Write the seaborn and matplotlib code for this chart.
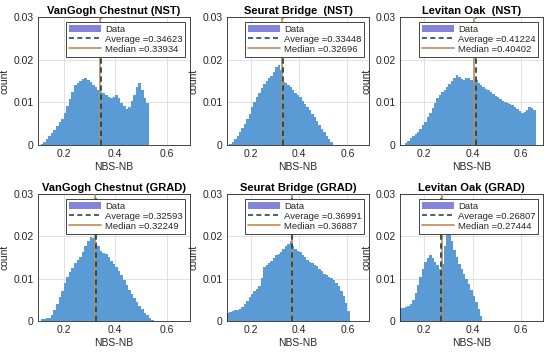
import numpy as np
import pandas as pd
import matplotlib
matplotlib.use('Agg')
import matplotlib.pyplot as plt
from matplotlib.patches import Patch
from matplotlib.lines import Line2D
import seaborn as sns

# ==== datos ====
titles = ['VanGogh Chestnut (NST)', 'Seurat Bridge  (NST)', 'Levitan Oak  (NST)',
          'VanGogh Chestnut (GRAD)', 'Seurat Bridge (GRAD)', 'Levitan Oak (GRAD)']
averages = [0.34623, 0.33448, 0.41224, 0.32593, 0.36991, 0.26807]
medians = [0.33934, 0.32696, 0.40402, 0.32249, 0.36887, 0.27444]

bin_width = 0.01
bin_starts = [0.11, 0.11, 0.12, 0.11, 0.10, 0.10]

vangogh_nst = [0.0003, 0.0008, 0.0014, 0.0021, 0.0029, 0.0036, 0.0045, 0.0053, 0.0062, 0.0075,
               0.0092, 0.0108, 0.0125, 0.0140, 0.0146, 0.0150, 0.0154, 0.0158, 0.0152, 0.0148,
               0.0141, 0.0135, 0.0128, 0.0125, 0.0121, 0.0117, 0.0113, 0.0110, 0.0112, 0.0118,
               0.0110, 0.0098, 0.0092, 0.0084, 0.0090, 0.0104, 0.0118, 0.0135, 0.0146, 0.0128,
               0.0110, 0.0098]
seurat_nst = [0.0003, 0.0007, 0.0013, 0.0020, 0.0030, 0.0040, 0.0050, 0.0061, 0.0073, 0.0088,
              0.0100, 0.0112, 0.0123, 0.0134, 0.0142, 0.0150, 0.0157, 0.0161, 0.0170, 0.0182,
              0.0188, 0.0176, 0.0148, 0.0145, 0.0141, 0.0137, 0.0130, 0.0123, 0.0117, 0.0112,
              0.0104, 0.0096, 0.0089, 0.0081, 0.0073, 0.0065, 0.0056, 0.0047, 0.0038, 0.0030,
              0.0022, 0.0014, 0.0006]
levitan_nst = [0.0004, 0.0010, 0.0016, 0.0021, 0.0026, 0.0031, 0.0038, 0.0046, 0.0055, 0.0065,
               0.0076, 0.0086, 0.0098, 0.0110, 0.0118, 0.0124, 0.0130, 0.0136, 0.0142, 0.0150,
               0.0158, 0.0165, 0.0160, 0.0155, 0.0153, 0.0157, 0.0158, 0.0153, 0.0150, 0.0152,
               0.0146, 0.0140, 0.0136, 0.0132, 0.0128, 0.0124, 0.0120, 0.0116, 0.0112, 0.0108,
               0.0104, 0.0100, 0.0098, 0.0095, 0.0093, 0.0090, 0.0085, 0.0080, 0.0075, 0.0078,
               0.0083, 0.0088, 0.0086, 0.0082]
vangogh_grad = [0.0004, 0.0005, 0.0006, 0.0008, 0.0014, 0.0026, 0.0040, 0.0056, 0.0072, 0.0090,
                0.0104, 0.0116, 0.0126, 0.0136, 0.0145, 0.0152, 0.0162, 0.0176, 0.0190, 0.0198,
                0.0196, 0.0186, 0.0178, 0.0166, 0.0160, 0.0158, 0.0150, 0.0142, 0.0134, 0.0128,
                0.0118, 0.0108, 0.0096, 0.0085, 0.0074, 0.0064, 0.0054, 0.0044, 0.0036, 0.0028,
                0.0020, 0.0013, 0.0007, 0.0003]
seurat_grad = [0.0020, 0.0022, 0.0024, 0.0025, 0.0026, 0.0028, 0.0032, 0.0039, 0.0048, 0.0057,
               0.0064, 0.0070, 0.0076, 0.0083, 0.0102, 0.0128, 0.0133, 0.0137, 0.0142, 0.0150,
               0.0155, 0.0159, 0.0164, 0.0170, 0.0176, 0.0182, 0.0190, 0.0178, 0.0170, 0.0166,
               0.0162, 0.0156, 0.0150, 0.0145, 0.0140, 0.0136, 0.0133, 0.0129, 0.0124, 0.0118,
               0.0112, 0.0108, 0.0104, 0.0101, 0.0097, 0.0090, 0.0082, 0.0072, 0.0058, 0.0042,
               0.0024]
levitan_grad = [0.0030, 0.0031, 0.0033, 0.0036, 0.0040, 0.0050, 0.0066, 0.0085, 0.0104, 0.0124,
                0.0140, 0.0150, 0.0155, 0.0148, 0.0140, 0.0132, 0.0122, 0.0135, 0.0178, 0.0202,
                0.0208, 0.0190, 0.0168, 0.0150, 0.0135, 0.0124, 0.0112, 0.0100, 0.0088, 0.0074,
                0.0060, 0.0044, 0.0028, 0.0012]

heights = [vangogh_nst, seurat_nst, levitan_nst, vangogh_grad, seurat_grad, levitan_grad]

y_ticks = [0, 0.01, 0.02, 0.03]
y_tick_labels = ['0', '0.01', '0.02', '0.03']
x_ticks = [0.2, 0.4, 0.6]
x_tick_labels = ['0.2', '0.4', '0.6']

# ==== estilo ====
sns.set_theme(style='whitegrid')
plt.rcParams['font.family'] = ['Liberation Sans', 'DejaVu Sans']

bar_color = '#5b9bd5'
data_patch_color = '#8484da'
avg_color = '#1e4d45'
med_color = '#c08a5c'
text_color = '#262626'

W, H = 550, 352
fig = plt.figure(figsize=(W / 100, H / 100), dpi=100)

col_lr = [(38, 190), (227, 369), (400, 543)]
row_tb = [(17, 145), (194, 321)]

for i in range(6):
    r, c = divmod(i, 3)
    l, rr = col_lr[c]
    t, b = row_tb[r]
    ax = fig.add_axes([l / W, 1 - b / H, (rr - l) / W, (b - t) / H])

    h = heights[i]
    edges = bin_starts[i] + bin_width * np.arange(len(h) + 1)
    centers = (edges[:-1] + edges[1:]) / 2
    df = pd.DataFrame({'x': centers, 'w': h})
    sns.histplot(data=df, x='x', weights='w', bins=edges.tolist(), ax=ax,
                 color=bar_color, alpha=1, linewidth=0)

    ax.axvline(medians[i], color=med_color, lw=1.2, ls='-', zorder=3)
    ax.axvline(averages[i], color=avg_color, lw=1.3, ls=(0, (3, 2)), zorder=4)

    ax.set_xlim(0.1, 0.69)
    ax.set_ylim(0, 0.03)
    ax.set_xticks(x_ticks)
    ax.set_xticklabels(x_tick_labels)
    ax.set_yticks(y_ticks)
    ax.set_yticklabels(y_tick_labels)
    ax.tick_params(labelsize=7.5, colors=text_color, length=0, pad=3)
    ax.grid(True, color='#dcdcdc', lw=0.6)
    ax.set_axisbelow(True)
    for s in ax.spines.values():
        s.set_color('#262626')
        s.set_linewidth(0.6)

    ax.set_title(titles[i], fontsize=8, fontweight='bold', color='black', pad=2)
    ax.set_xlabel('NBS-NB', fontsize=7.5, color=text_color, labelpad=2)
    ax.set_ylabel('count', fontsize=7.5, color=text_color, labelpad=3)

    handles = [Patch(facecolor=data_patch_color, edgecolor='none'),
               Line2D([0], [0], color=avg_color, lw=1.2, ls=(0, (3, 2))),
               Line2D([0], [0], color=med_color, lw=1.2)]
    labels = ['Data', 'Average =%.5f' % averages[i], 'Median =%.5f' % medians[i]]
    leg = ax.legend(handles, labels, loc='upper right', fontsize=6.8, fancybox=False,
                    framealpha=1, edgecolor='#262626', borderpad=0.3, labelspacing=0.1,
                    handlelength=3.4, handleheight=0.9, handletextpad=0.4,
                    borderaxespad=0.5)
    leg.get_frame().set_linewidth(0.6)

fig.savefig('out.png', dpi=100)
